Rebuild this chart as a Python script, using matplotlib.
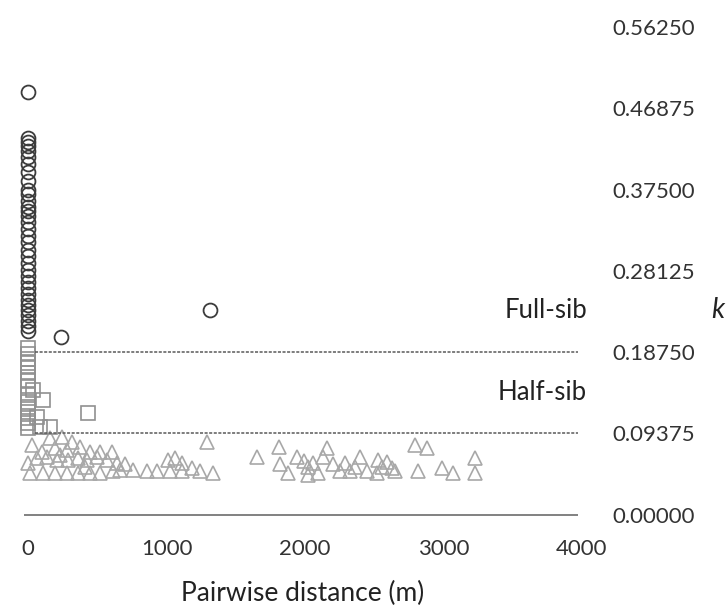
import matplotlib.pyplot as plt

# full-sib pairs (circles)
circ_d = [0]*34 + [240, 1316]
circ_k = [0.487, 0.435, 0.430, 0.425, 0.420, 0.412, 0.405, 0.395, 0.385, 0.375,
          0.370, 0.362, 0.355, 0.350, 0.345, 0.338, 0.330, 0.322, 0.315, 0.305,
          0.298, 0.290, 0.282, 0.275, 0.268, 0.262, 0.255, 0.248, 0.242, 0.236,
          0.230, 0.224, 0.218, 0.212, 0.205, 0.236]

# half-sib pairs (squares)
sq_d = [0]*15 + [36, 108, 87, 159, 434, 65]
sq_k = [0.192, 0.185, 0.180, 0.175, 0.170, 0.163, 0.155, 0.148, 0.138, 0.130,
        0.124, 0.118, 0.112, 0.106, 0.100, 0.144, 0.132, 0.101, 0.101, 0.117, 0.113]

# unrelated pairs (triangles)
tri_d = [29, 159, 246, 101, 195, 282, 376, 448, 521, 607,
         0, 65, 137, 210, 289, 362, 427, 499, 571, 644,
         14, 108, 195, 282, 362, 448, 521, 615, 701, 759,
         860, 933, 1012, 1063, 1114, 1027, 1114, 1186, 1244, 1294,
         1338, 318, 231, 412, 665,
         1656, 1815, 1822, 1945, 1880, 2025, 2025, 2097, 2162, 2133,
         2256, 2328, 2400, 2364, 2531, 2523, 2596, 2632, 2798, 2885,
         2820, 2993, 3073, 3232, 3232, 2060, 2200, 2290, 2450, 2560, 2650, 1990]
tri_k = [0.081, 0.089, 0.090, 0.072, 0.077, 0.075, 0.078, 0.072, 0.072, 0.072,
         0.060, 0.066, 0.067, 0.063, 0.063, 0.066, 0.063, 0.067, 0.063, 0.060,
         0.048, 0.048, 0.048, 0.048, 0.048, 0.048, 0.048, 0.050, 0.058, 0.052,
         0.050, 0.050, 0.063, 0.066, 0.060, 0.050, 0.050, 0.054, 0.050, 0.084,
         0.048, 0.084, 0.069, 0.055, 0.052,
         0.067, 0.078, 0.058, 0.067, 0.048, 0.055, 0.046, 0.048, 0.077, 0.067,
         0.050, 0.050, 0.067, 0.055, 0.063, 0.048, 0.061, 0.054, 0.081, 0.077,
         0.050, 0.054, 0.048, 0.066, 0.048, 0.060, 0.058, 0.060, 0.050, 0.055, 0.050, 0.062]

yticks = [0.0, 0.09375, 0.1875, 0.28125, 0.375, 0.46875, 0.5625]
xticks = [0, 1000, 2000, 3000, 4000]
full_sib = 0.1875
half_sib = 0.09375

plt.rcParams['font.family'] = ['Lato', 'DejaVu Sans']
fig = plt.figure(figsize=(7.28, 6.13), dpi=100)
ax = fig.add_axes([0.033, 0.139, 0.766, 0.817])

ax.plot(tri_d, tri_k, '^', ms=10.5, mfc='none', mec='#a8a8a8', mew=1.2, clip_on=False)
ax.plot(sq_d, sq_k, 's', ms=10, mfc='none', mec='#909090', mew=1.2, clip_on=False)
ax.plot(circ_d, circ_k, 'o', ms=10, mfc='none', mec='#3c3c3c', mew=1.3, clip_on=False)

ax.hlines(0, -30, 3970, color='#777777', lw=1.3)
ax.hlines([full_sib, half_sib], 50, 3970, color='#5a5a5a', lw=1.1, linestyles=(0, (2, 1)))

# labels sit between the threshold lines
trans = ax.get_yaxis_transform()
ax.text(1.01, 0.236, 'Full-sib', transform=trans, ha='right', va='center',
        fontsize=18.5, color='#222222')
ax.text(1.01, 0.1415, 'Half-sib', transform=trans, ha='right', va='center',
        fontsize=18.5, color='#222222')

ax.set_xlim(-30, 4000)
ax.set_ylim(-0.015, 0.5625)
ax.set_xticks(xticks)
ax.set_xticklabels([str(t) for t in xticks])
ax.set_yticks(yticks)
ax.set_yticklabels(['%.5f' % t for t in yticks])
ax.yaxis.tick_right()
ax.tick_params(axis='both', length=0, labelsize=16, colors='#333333')
ax.tick_params(axis='x', pad=8)
ax.tick_params(axis='y', pad=22)
for s in ax.spines.values():
    s.set_visible(False)

ax.set_xlabel('Pairwise distance (m)', fontsize=19, color='#222222', labelpad=16)
fig.text(0.986, 1 - 310 / 613, 'k', fontsize=20, style='italic', ha='center', va='center',
         color='#222222')

fig.savefig('out.png', dpi=100)
